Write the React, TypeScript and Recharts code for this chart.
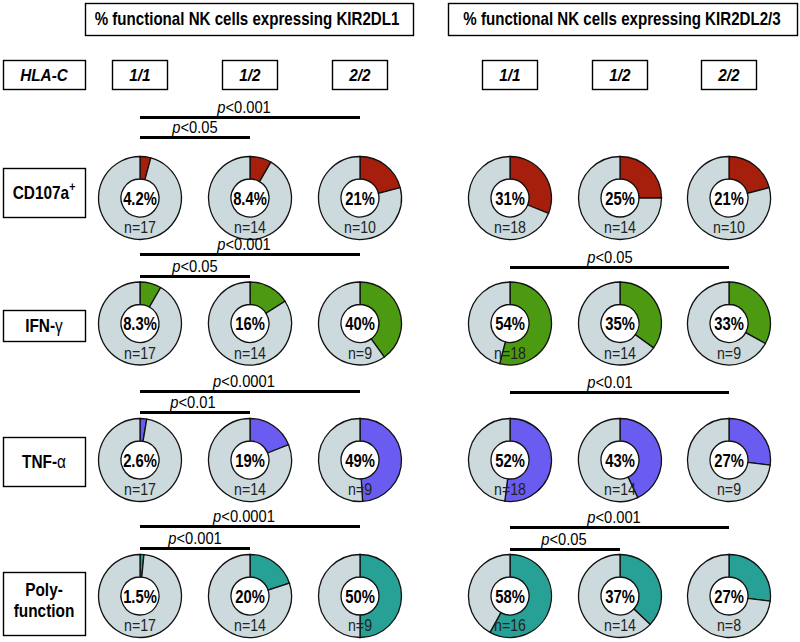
import React from 'react';
import { PieChart, Pie, Cell } from 'recharts';

// panel headers, genotype columns and readout rows
const panelTitles = ['% functional NK cells expressing KIR2DL1', '% functional NK cells expressing KIR2DL2/3'];
const genotypes = ['1/1', '1/2', '2/2'];
const readouts = ['CD107a', 'IFN-', 'TNF-', 'Poly-function'];

// % positive, columns: KIR2DL1 1/1, 1/2, 2/2, KIR2DL2/3 1/1, 1/2, 2/2
const cd107aPct = [4.2, 8.4, 21, 31, 25, 21];
const ifngPct = [8.3, 16, 40, 54, 35, 33];
const tnfaPct = [2.6, 19, 49, 52, 43, 27];
const polyPct = [1.5, 20, 50, 58, 37, 27];

// donors per group
const cd107aN = [17, 14, 10, 18, 14, 10];
const ifngN = [17, 14, 9, 18, 14, 9];
const tnfaN = [17, 14, 9, 18, 14, 9];
const polyN = [17, 14, 9, 16, 14, 8];

// significance brackets: row, first column, last column, p threshold
const pBrackets = [
    { row: 0, from: 0, to: 2, p: '0.001' },
    { row: 0, from: 0, to: 1, p: '0.05' },
    { row: 1, from: 0, to: 2, p: '0.001' },
    { row: 1, from: 0, to: 1, p: '0.05' },
    { row: 1, from: 3, to: 5, p: '0.05' },
    { row: 2, from: 0, to: 2, p: '0.0001' },
    { row: 2, from: 0, to: 1, p: '0.01' },
    { row: 2, from: 3, to: 5, p: '0.01' },
    { row: 3, from: 0, to: 2, p: '0.0001' },
    { row: 3, from: 0, to: 1, p: '0.001' },
    { row: 3, from: 3, to: 5, p: '0.001' },
    { row: 3, from: 3, to: 4, p: '0.05' },
];

const pctRows = [cd107aPct, ifngPct, tnfaPct, polyPct];
const nRows = [cd107aN, ifngN, tnfaN, polyN];

// layout
const COLS = [140, 250, 360, 510, 620, 729];
const ROWS = [198, 323.5, 460, 596];
const OUTER = 41.5;
const INNER = 19;
const ROW_COLORS = ['#a51f0c', '#4b9a12', '#6a5cf0', '#27a096'];
const REST = '#cddadd';
const FONT = '"Liberation Sans", Arial, sans-serif';
// y of each bracket line, label x
const bracketPos = [
    { y: 117.5, lx: 244 }, { y: 137.5, lx: 195 },
    { y: 254.5, lx: 244 }, { y: 276.5, lx: 195 }, { y: 267.5, lx: 610 },
    { y: 391.5, lx: 244 }, { y: 412.5, lx: 193 }, { y: 392.5, lx: 610 },
    { y: 526.5, lx: 244 }, { y: 548.5, lx: 195 }, { y: 527.5, lx: 614 }, { y: 549.5, lx: 564 },
];
const rowBoxes = [
    { y: 168, h: 49 }, { y: 310, h: 31 }, { y: 437, h: 49 }, { y: 572, h: 63 },
];

const Txt = ({ x, y, size, sx = 0.86, bold = false, italic = false, fill = '#000', children }: any) => (
    <text
        transform={`translate(${x},${y}) scale(${sx},1)`}
        textAnchor="middle"
        dominantBaseline="central"
        fontFamily={FONT}
        fontSize={size}
        fontWeight={bold ? 'bold' : 'normal'}
        fontStyle={italic ? 'italic' : 'normal'}
        fill={fill}
    >
        {children}
    </text>
);

const Box = ({ x, y, w, h }: any) => (
    <rect x={x + 0.5} y={y + 0.5} width={w} height={h} fill="none" stroke="#000" strokeWidth={1.4} />
);

function Overlay() {
    return (
        <svg width={800} height={642} style={{ position: 'absolute', left: 0, top: 0, pointerEvents: 'none' }}>
            {/* panel titles */}
            <Box x={85} y={3} w={328} h={32} />
            <Txt x={247} y={19.5} size={18} bold sx={0.84}>{panelTitles[0]}</Txt>
            <Box x={448} y={3} w={349} h={32} />
            <Txt x={622} y={19.5} size={18} bold sx={0.84}>{panelTitles[1]}</Txt>

            {/* genotype header */}
            <Box x={3} y={60} w={82} h={29} />
            <Txt x={44} y={75} size={17} bold italic sx={0.9}>HLA-C</Txt>
            {COLS.map((cx, i) => (
                <g key={i}>
                    <Box x={cx - 28} y={60} w={55} h={29} />
                    <Txt x={cx} y={75} size={17} bold italic sx={0.9}>{genotypes[i % 3]}</Txt>
                </g>
            ))}

            {/* row labels */}
            {rowBoxes.map((b, r) => (
                <Box key={r} x={3} y={b.y} w={82} h={b.h} />
            ))}
            <Txt x={44} y={193} size={17.5} bold sx={0.88}>
                {readouts[0]}<tspan dy={-6} fontSize={12}>+</tspan>
            </Txt>
            <Txt x={44} y={326} size={17.5} bold sx={0.88}>
                {readouts[1]}<tspan fontWeight="normal">γ</tspan>
            </Txt>
            <Txt x={44} y={462} size={17.5} bold sx={0.88}>
                {readouts[2]}<tspan fontWeight="normal">α</tspan>
            </Txt>
            <Txt x={44} y={590} size={17.5} bold sx={0.88}>{readouts[3].slice(0, 5)}</Txt>
            <Txt x={44} y={611} size={17.5} bold sx={0.88}>{readouts[3].slice(5)}</Txt>

            {/* significance brackets */}
            {pBrackets.map((b, i) => {
                const pos = bracketPos[i];
                return (
                    <g key={i}>
                        <line x1={COLS[b.from]} x2={COLS[b.to]} y1={pos.y} y2={pos.y} stroke="#000" strokeWidth={3} />
                        <Txt x={pos.lx} y={pos.y - 10.5} size={16} sx={0.92}>
                            <tspan fontStyle="italic">p</tspan>{'<' + b.p}
                        </Txt>
                    </g>
                );
            })}

            {/* centre values and group sizes */}
            {pctRows.map((vals, r) =>
                vals.map((v, c) => (
                    <g key={`${r}-${c}`}>
                        <Txt x={COLS[c]} y={ROWS[r] + 0.5} size={19} bold sx={0.78}>{`${v}%`}</Txt>
                        <Txt x={COLS[c]} y={ROWS[r] + 29.5} size={16.5} sx={0.86} fill="#222">{`n=${nRows[r][c]}`}</Txt>
                    </g>
                ))
            )}
        </svg>
    );
}

export default function App() {
    return (
        <div style={{ position: 'absolute', left: 0, top: 0, width: 800, height: 642, background: '#fff' }}>
            <PieChart width={800} height={642} margin={{ top: 0, right: 0, bottom: 0, left: 0 }}>
                {pctRows.map((vals, r) =>
                    vals.map((v, c) => (
                        <Pie
                            key={`${r}-${c}`}
                            data={[{ name: 'pos', value: v }, { name: 'neg', value: 100 - v }]}
                            dataKey="value"
                            cx={COLS[c]}
                            cy={ROWS[r]}
                            innerRadius={INNER}
                            outerRadius={OUTER}
                            startAngle={90}
                            endAngle={-270}
                            stroke="#111"
                            strokeWidth={1.3}
                            isAnimationActive={false}
                        >
                            <Cell fill={ROW_COLORS[r]} />
                            <Cell fill={REST} />
                        </Pie>
                    ))
                )}
            </PieChart>
            <Overlay />
        </div>
    );
}
